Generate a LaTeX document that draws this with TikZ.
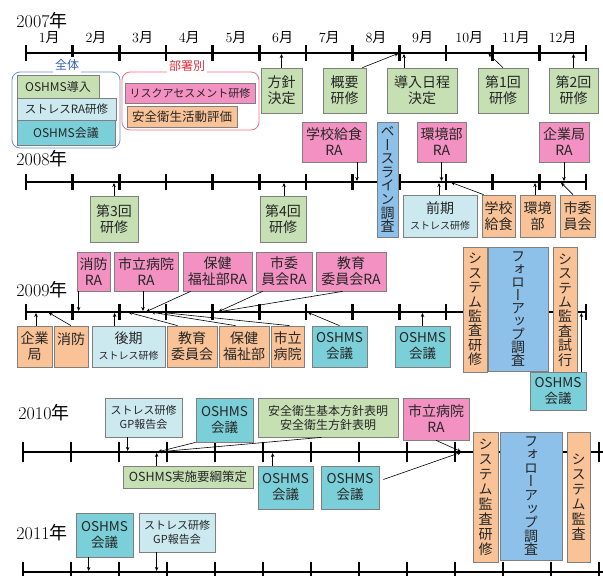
\documentclass[tikz,border=0pt]{standalone}
\usepackage{fontspec}
\newfontfamily\jp{Noto Sans CJK JP}
\newfontfamily\jpv[RawFeature=+vert]{Noto Sans CJK JP}
\usetikzlibrary{arrows.meta,positioning}
\definecolor{trainfill}{HTML}{C6E0B4}
\definecolor{stressfill}{HTML}{CCE9F0}
\definecolor{meetfill}{HTML}{7ACFD9}
\definecolor{rafill}{HTML}{F291C2}
\definecolor{deptfill}{HTML}{FAC397}
\definecolor{surveyfill}{HTML}{8EC1E9}
\definecolor{boxline}{HTML}{7F7F7F}
\definecolor{allblue}{HTML}{6F8FCB}
\definecolor{allbluetext}{HTML}{2F5FBF}
\definecolor{deptred}{HTML}{F0707C}
\definecolor{deptredtext}{HTML}{E0303F}
\tikzset{
  evbox/.style={
    rectangle, draw=boxline, fill=#1, line width=0.7pt,
    text=black!85, align=center, inner sep=1pt,
    font=\jp\fontsize{14}{16}\selectfont
  },
  fold/.style={append after command={\pgfextra{%
    \fill[white] ([xshift=-5pt]\tikzlastnode.south east) -- (\tikzlastnode.south east)
      -- ([yshift=5pt]\tikzlastnode.south east) -- cycle;
    \filldraw[fill=#1!65!black, draw=boxline, line width=0.5pt]
      ([xshift=-5pt]\tikzlastnode.south east) -- ([yshift=5pt]\tikzlastnode.south east)
      -- ([xshift=-5pt,yshift=5pt]\tikzlastnode.south east) -- cycle;
  }}},
  trainbox/.style={evbox=trainfill, fold=trainfill},
  stressbox/.style={evbox=stressfill, fold=stressfill},
  meetbox/.style={evbox=meetfill, fold=meetfill, font=\jp\fontsize{13.5}{16}\selectfont},
  rabox/.style={evbox=rafill},
  deptbox/.style={evbox=deptfill},
  surveybox/.style={evbox=surveyfill},
  vtext/.style={font=\jpv\fontsize{14}{#1}\selectfont},
  vtext/.default=14.4,
  sz/.style 2 args={minimum width=#1pt, minimum height=#2pt},
  grpbox/.style={rectangle, rounded corners=8pt, draw=#1, line width=0.8pt},
  grplabel/.style={fill=white, text=#1, inner sep=2pt, font=\jp\fontsize{12}{12}\selectfont},
  yearlabel/.style={font=\fontsize{18}{18}\selectfont},
  monthlabel/.style={font=\fontsize{14}{14}\selectfont},
  timeline/.style={line width=2.5pt},
  tickmark/.style={line width=2.5pt},
  evarrow/.style={-{Stealth[length=4pt,width=3.5pt]}, line width=0.6pt, shorten >=1pt},
}
\begin{document}
\begin{tikzpicture}[x=1pt, y=-1pt]
  \useasboundingbox (0,0) rectangle (603,576);

  % time axes, one per year
  \foreach \k in {0,...,12} {
    \coordinate (y7-\k) at ({26+46.667*\k},53);
    \coordinate (y8-\k) at ({26+46.667*\k},182);
    \coordinate (y9-\k) at ({26+46.667*\k},312);
    \coordinate (y10-\k) at ({23+48*\k},452);
    \coordinate (y11-\k) at ({23+48*\k},572);
  }
  \draw[timeline] (y7-0) -- (y7-12);
  \draw[timeline] (y8-0) -- (y8-12);
  \draw[timeline] (y9-0) -- (y9-12);
  \draw[timeline] (y10-0) -- ([xshift=4]y10-12);
  \draw[timeline] (y11-0) -- ([xshift=4]y11-12);
  \foreach \k in {0,...,12} {
    \draw[tickmark] ([yshift=8]y7-\k) -- ([yshift=-8]y7-\k);
    \draw[tickmark] ([yshift=8]y8-\k) -- ([yshift=-8]y8-\k);
    \draw[tickmark] ([yshift=8]y9-\k) -- ([yshift=-8]y9-\k);
    \draw[tickmark] ([yshift=10]y10-\k) -- ([yshift=-10]y10-\k);
    \draw[tickmark] ([yshift=10]y11-\k) -- ([yshift=-10]y11-\k);
  }

  % year and month labels
  \node[yearlabel] (yr7) at (42,21) {2007{\jp 年}};
  \node[yearlabel] (yr8) at (42,159) {2008{\jp 年}};
  \node[yearlabel] (yr9) at (42,290) {2009{\jp 年}};
  \node[yearlabel] (yr10) at (44,413) {2010{\jp 年}};
  \node[yearlabel] (yr11) at (42,533) {2011{\jp 年}};
  \foreach \m [count=\k from 0] in {1,...,12}
    \node[monthlabel] (mon\m) at ({49.3+46.667*\k},38) {\m{\jp 月}};

  % 2007 - groups
  \node[grpbox=allblue, sz={108}{76}] (allgrp) at (66,110) {};
  \node[trainbox, sz={82}{23}, font=\jp\fontsize{12}{14}\selectfont] (intro) at (58,86.5) {OSHMS導入};
  \node[stressbox, sz={99}{22}, font=\jp\fontsize{11.5}{14}\selectfont] (stressra) at (66.5,109) {ストレスRA研修};
  \node[meetbox, sz={98}{25}, font=\jp\fontsize{12}{14}\selectfont] (meet0) at (66,132.5) {OSHMS会議};
  \node[grplabel=allbluetext] (alllab) at (67,65) {全体};
  \node[grpbox=deptred, sz={137}{58}] (deptgrp) at (190.5,101) {};
  \node[rabox, sz={130}{20}, font=\jp\fontsize{11}{13}\selectfont] (riskra) at (190,93) {リスクアセスメント研修};
  \node[deptbox, sz={110}{21}, font=\jp\fontsize{12.5}{14}\selectfont] (hyoka) at (182,116.5) {安全衛生活動評価};
  \node[grplabel=deptredtext] (deptlab) at (187,66) {部署別};

  % 2007 - events
  \node[trainbox, sz={41}{45}] (hoshin) at (281.5,90.5) {方針\\決定};
  \node[trainbox, sz={43}{45}] (gaiyo) at (344.5,90.5) {概要\\研修};
  \node[trainbox, sz={70}{45}] (nittei) at (422,90.5) {導入日程\\決定};
  \node[trainbox, sz={50}{45}] (dai1) at (503,90.5) {第1回\\研修};
  \node[trainbox, sz={49}{45}] (dai2) at (573.5,90.5) {第2回\\研修};

  % 2008
  \node[rabox, sz={64}{40}] (gakkora) at (334,142) {学校給食\\RA};
  \node[surveybox, vtext=13.6, sz={21}{115}] (baseline) at (387.5,179.5) {ベ\\ー\\ス\\ラ\\イ\\ン\\調\\査};
  \node[rabox, sz={49}{40}] (kankyora) at (441.5,142) {環境部\\RA};
  \node[rabox, sz={50}{40}] (kigyora) at (564,142) {企業局\\RA};
  \node[trainbox, sz={48}{46}] (dai3) at (114,219) {第3回\\研修};
  \node[trainbox, sz={46}{46}] (dai4) at (283,219) {第4回\\研修};
  \node[stressbox, sz={74}{42}] (zenki) at (440,216) {前期\\{\fontsize{10}{12}\selectfont ストレス研修}};
  \node[deptbox, sz={33}{42}] (gakko) at (498.5,216) {学校\\給食};
  \node[deptbox, sz={35}{42}] (kankyo) at (537.5,216) {環境\\部};
  \node[deptbox, sz={35}{42}] (shii) at (577.5,216) {市委\\員会};

  % 2009
  \node[rabox, sz={33}{39}] (shobora) at (93.5,271.5) {消防\\RA};
  \node[rabox, sz={64}{39}] (byoinra) at (146,271.5) {市立病院\\RA};
  \node[rabox, sz={69}{39}] (hokenra) at (217.5,271.5) {保健\\福祉部RA};
  \node[rabox, sz={56}{39}] (shiira) at (284,271.5) {市委\\員会RA};
  \node[rabox, sz={70}{39}] (kyoikura) at (351,271.5) {教育\\委員会RA};
  \node[deptbox, sz={35}{41}] (kigyo) at (34.5,346.5) {企業\\局};
  \node[deptbox, sz={34}{41}] (shobo) at (71,346.5) {消防\\ };
  \node[stressbox, sz={73}{41}] (koki) at (128.5,346.5) {後期\\{\fontsize{10}{12}\selectfont ストレス研修}};
  \node[deptbox, sz={50}{41}] (kyoiku) at (192,346.5) {教育\\委員会};
  \node[deptbox, sz={50}{41}] (hoken) at (244,346.5) {保健\\福祉部};
  \node[deptbox, sz={33}{41}] (byoin) at (287.5,346.5) {市立\\病院};
  \node[meetbox, sz={55}{41}] (meet1) at (339.5,346.5) {OSHMS\\会議};
  \node[meetbox, sz={55}{41}] (meet2) at (422.5,346.5) {OSHMS\\会議};
  \node[deptbox, vtext, sz={24}{125}] (audtrain9) at (475,309.5) {シ\\ス\\テ\\ム\\監\\査\\研\\修};
  \node[surveybox, vtext=13, sz={60}{124}] (follow9) at (518,309) {フ\\ォ\\ロ\\ー\\ア\\ッ\\プ\\調\\査};
  \node[deptbox, vtext, sz={24}{126}] (audtrial) at (565,310) {シ\\ス\\テ\\ム\\監\\査\\試\\行};
  \node[meetbox, sz={56}{38}] (meet3) at (558,391) {OSHMS\\会議};

  % 2010
  \node[stressbox, sz={77}{39}, font=\jp\fontsize{11}{14}\selectfont] (gp10) at (143.5,417.5) {ストレス研修\\GP報告会};
  \node[meetbox, sz={57}{44}] (meet4) at (224.5,420) {OSHMS\\会議};
  \node[trainbox, sz={140}{39}, font=\jp\fontsize{12}{14}\selectfont] (policy) at (328,417.5) {安全衛生基本方針表明\\安全衛生方針表明};
  \node[rabox, sz={66}{42}] (byoinra10) at (436,419) {市立病院\\RA};
  \node[trainbox, sz={130}{22}, font=\jp\fontsize{12.5}{14}\selectfont] (yoko) at (188,477) {OSHMS実施要綱策定};
  \node[meetbox, sz={55}{43}] (meet5) at (285.5,487.5) {OSHMS\\会議};
  \node[meetbox, sz={58}{43}] (meet6) at (350,487.5) {OSHMS\\会議};
  \node[deptbox, vtext=15, sz={25}{130}] (audtrain10) at (485.5,497) {シ\\ス\\テ\\ム\\監\\査\\研\\修};
  \node[surveybox, vtext=13.6, sz={62}{128}] (follow10) at (531,496) {フ\\ォ\\ロ\\ー\\ア\\ッ\\プ\\調\\査};
  \node[deptbox, vtext=15, sz={23}{130}] (audit10) at (578.5,497) {シ\\ス\\テ\\ム\\監\\査};

  % 2011
  \node[meetbox, sz={57}{44}] (meet7) at (104.5,535) {OSHMS\\会議};
  \node[stressbox, sz={76}{39}, font=\jp\fontsize{11}{14}\selectfont] (gp11) at (177,532.5) {ストレス研修\\GP報告会};

  % arrows to the time axes
  \draw[evarrow] (hoshin.north) -- (hoshin.north |- y7-0);
  \draw[evarrow] ([xshift=-4]gaiyo.north east) -- (y7-8);
  \draw[evarrow] ([xshift=-18]nittei.north) -- ([xshift=-18]nittei.north |- y7-0);
  \draw[evarrow] (dai1.north) -- ([xshift=-5]y7-10);
  \draw[evarrow] (dai2.north) -- (dai2.north |- y7-0);

  \draw[evarrow] ([xshift=23]gakkora.south) -- ([xshift=23]gakkora.south |- y8-0);
  \draw[evarrow] (kankyora.south) -- (kankyora.south |- y8-0);
  \draw[evarrow] (kigyora.south) -- (kigyora.south |- y8-0);
  \draw[evarrow] (dai3.north) -- (dai3.north |- y8-0);
  \draw[evarrow] ([xshift=1]dai4.north) -- ([xshift=1]dai4.north |- y8-0);
  \draw[evarrow] ([xshift=-1]zenki.north) -- ([xshift=-1]zenki.north |- y8-0);
  \draw[evarrow] ([xshift=2]gakko.north west) -- ([xshift=4]y8-9);
  \draw[evarrow] ([xshift=-2.5]kankyo.north) -- ([xshift=-2.5]kankyo.north |- y8-0);
  \draw[evarrow] ([xshift=-4.5]shii.north) -- ([xshift=21]y8-11);

  \draw[evarrow] ([xshift=2]shobora.south west) -- ([xshift=2]shobora.south west |- y9-0);
  \draw[evarrow] ([xshift=-3]byoinra.south) -- ([xshift=-3]byoinra.south |- y9-0);
  \draw[evarrow] ([xshift=8]hokenra.south west) -- ([xshift=26]y9-2);
  \draw[evarrow] ([xshift=7]shiira.south west) -- ([xshift=5]y9-4);
  \draw[evarrow] ([xshift=27]kyoikura.south west) -- ([xshift=5]y9-4);
  \draw[evarrow] ([xshift=1.5]kigyo.north) -- ([xshift=1.5]kigyo.north |- y9-0);
  \draw[evarrow] (shobo.north) -- ([xshift=-25]y9-1);
  \draw[evarrow] ([xshift=23]koki.north west) -- ([xshift=23]koki.north west |- y9-0);
  \draw[evarrow] ([xshift=11]kyoiku.north west) -- ([xshift=8]y9-2);
  \draw[evarrow] ([xshift=17]hoken.north west) -- ([xshift=31]y9-2);
  \draw[evarrow] ([xshift=19]byoin.north west) -- ([xshift=38]y9-2);
  \draw[evarrow] (meet1.north) -- ([xshift=1]y9-6);
  \draw[evarrow] (meet2.north) -- (meet2.north |- y9-0);
  \draw[evarrow] ([xshift=-5]meet3.north east) -- ([xshift=-5]meet3.north east |- y9-0);

  \draw[evarrow] ([xshift=23]gp10.south west) -- ([xshift=23]gp10.south west |- y10-0);
  \draw[evarrow] (meet4.south west) -- ([xshift=-10]y10-3);
  \draw[evarrow] ([xshift=64]policy.south west) -- ([xshift=-10]y10-3);
  \draw[evarrow] (byoinra10.south) -- ([xshift=7]y10-9);
  \draw[evarrow] ([xshift=34]yoko.north west) -- ([xshift=34]yoko.north west |- y10-0);
  \draw[evarrow] ([xshift=15]meet5.north west) -- ([xshift=15]meet5.north west |- y10-0);
  \draw[evarrow] ([xshift=4,yshift=8]meet6.east) -- ([xshift=7]y10-9);

  \draw[evarrow] ([xshift=13]meet7.south west) -- ([xshift=13]meet7.south west |- y11-0);
  \draw[evarrow] ([xshift=18]gp11.south west) -- ([xshift=18]gp11.south west |- y11-0);
\end{tikzpicture}
\end{document}
